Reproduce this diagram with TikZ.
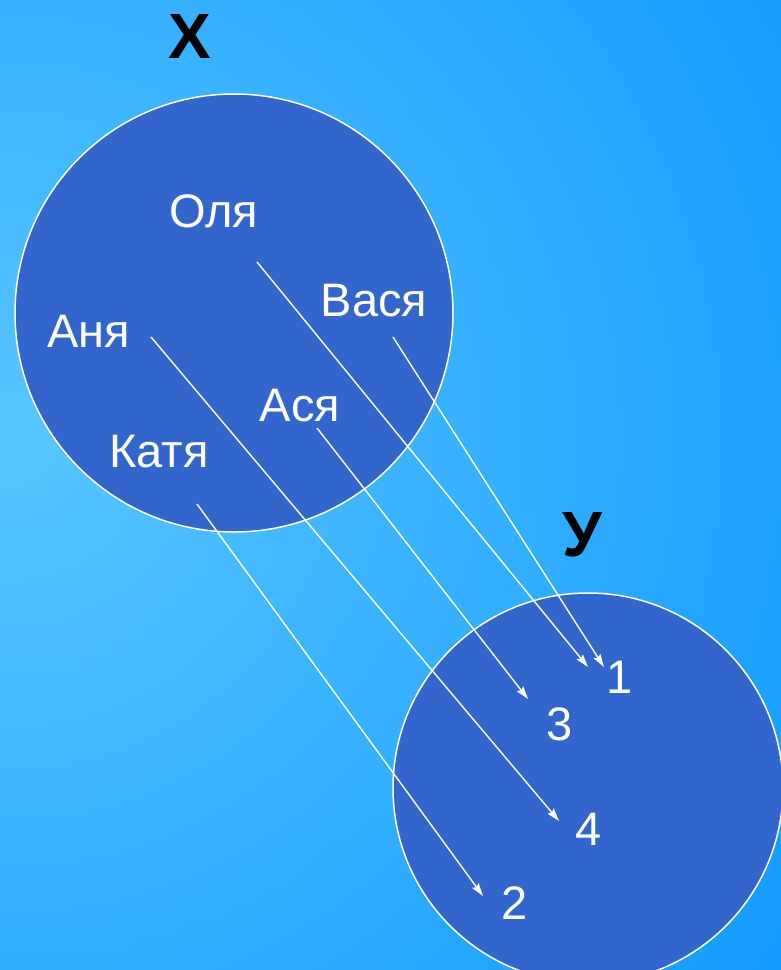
\documentclass[tikz,border=0pt]{standalone}
\usepackage{fontspec}
\setmainfont{Liberation Sans}
\usetikzlibrary{arrows.meta}
\definecolor{setblue}{HTML}{3366CC}
\definecolor{bglight}{RGB}{88,198,255}
\definecolor{bgdark}{RGB}{16,154,255}
\tikzset{
  setdisk/.style={draw=white,line width=1.5pt,fill=setblue},
  elem/.style={text=white,font=\fontsize{47}{50}\selectfont,anchor=base,inner sep=0pt},
  setname/.style={text=black,font=\fontsize{64}{70}\selectfont\bfseries,anchor=base,inner sep=0pt},
  maps/.style={white,line width=1.4pt,-{Stealth[length=13pt,width=8pt,inset=2pt]}}
}
\begin{document}
\begin{tikzpicture}[x=1pt,y=-1pt]
  \useasboundingbox (0,0) rectangle (781,970);
  \clip (0,0) rectangle (781,970);
  % background
  \shade[inner color=bglight,outer color=bgdark] (10,440) circle (960);
  % the two sets
  \draw[setdisk] (234,313) circle (219);
  \draw[setdisk] (588,788) circle (195);
  \node[setname] (X) at (190,58) {Х};
  \node[setname] (Y) at (582,556) {У};
  % elements of X
  \node[elem] (olya) at (214,227) {Оля};
  \node[elem] (vasya) at (374,316) {Вася};
  \node[elem] (anya) at (89,347) {Аня};
  \node[elem] (asya) at (300,421) {Ася};
  \node[elem] (katya) at (159,467) {Катя};
  % elements of Y
  \node[elem] (n1) at (620,693) {1};
  \node[elem] (n3) at (560,740) {3};
  \node[elem] (n4) at (589,845) {4};
  \node[elem] (n2) at (515,919) {2};
  % ends of the arrows
  \coordinate (olya-s) at (257,262);
  \coordinate (vasya-s) at (393,337);
  \coordinate (anya-s) at (151,337);
  \coordinate (asya-s) at (317,428);
  \coordinate (katya-s) at (197,504);
  \coordinate (n1-a) at (588,667);
  \coordinate (n1-b) at (604,667);
  \coordinate (n3-e) at (528,699);
  \coordinate (n4-e) at (559,821);
  \coordinate (n2-e) at (483,896);
  \draw[maps] (olya-s) -- (n1-a);
  \draw[maps] (vasya-s) -- (n1-b);
  \draw[maps] (anya-s) -- (n4-e);
  \draw[maps] (asya-s) -- (n3-e);
  \draw[maps] (katya-s) -- (n2-e);
\end{tikzpicture}
\end{document}
